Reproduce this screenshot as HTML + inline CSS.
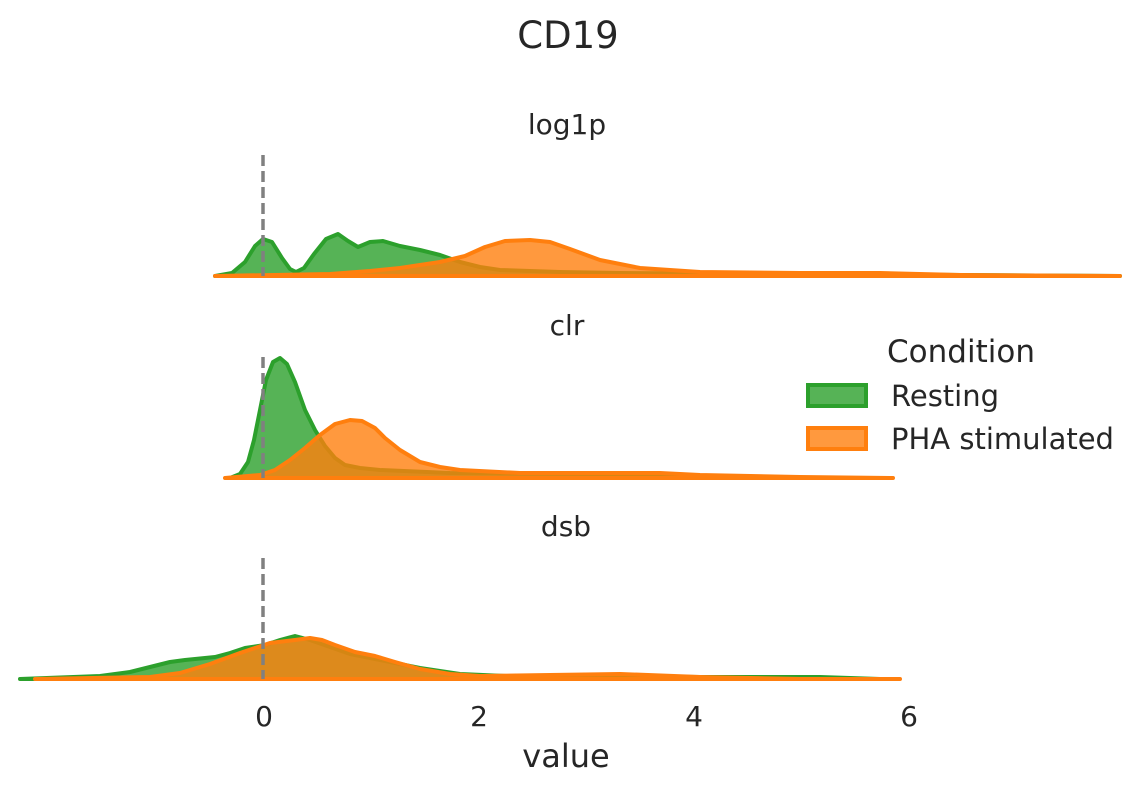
<!DOCTYPE html>
<html><head><style>body{margin:0;background:#fff}svg{display:block}text{font-family:"DejaVu Sans","Liberation Sans",sans-serif;fill:#262626}</style></head>
<body>
<svg width="1141" height="793" viewBox="0 0 1141 793">
<g stroke-width="4" stroke-linejoin="round" stroke-linecap="round">
<path d="M215 276 L232 273 L245 262 L255 246 L263 239 L272 242 L282 258 L290 269 L296 272 L304 268 L314 254 L326 239 L338 234 L348 241 L358 247 L370 242 L383 241 L400 246 L420 250 L440 255 L460 262 L480 267 L500 270 L560 272 L620 273 L800 274 L1120 276 Z" fill="#2ca02c" fill-opacity="0.8" stroke="#2ca02c"/>
<path d="M215 276 L330 274 L370 271 L400 268 L440 262 L465 256 L485 247 L505 241 L530 240 L550 242 L570 249 L600 260 L640 268 L700 272 L800 273 L880 273 L960 275 L1120 276 Z" fill="#ff7f0e" fill-opacity="0.8" stroke="#ff7f0e"/>
<path d="M230 478 L240 474 L248 462 L254 440 L260 410 L266 380 L273 362 L280 358 L287 364 L295 382 L305 410 L315 430 L325 446 L335 458 L345 465 L360 468 L380 470 L450 473 L600 474 L745 478 Z" fill="#2ca02c" fill-opacity="0.8" stroke="#2ca02c"/>
<path d="M225 478 L260 475 L275 470 L290 460 L305 448 L320 435 L335 424 L350 420 L362 421 L375 428 L385 438 L400 450 L420 462 L440 467 L460 470 L520 473 L600 473 L660 473 L700 475 L800 477 L893 478 Z" fill="#ff7f0e" fill-opacity="0.8" stroke="#ff7f0e"/>
<path d="M20 679 L100 676 L130 672 L150 667 L170 662 L185 660 L215 657 L230 653 L245 648 L265 645 L280 640 L295 636 L310 640 L330 647 L350 654 L380 660 L420 668 L460 674 L530 677 L600 676 L700 677 L820 677 L880 679 Z" fill="#2ca02c" fill-opacity="0.8" stroke="#2ca02c"/>
<path d="M35 679 L150 677 L180 673 L210 664 L240 653 L270 643 L295 640 L310 638 L322 640 L335 645 L355 652 L375 656 L395 662 L420 669 L450 674 L480 676 L550 675 L620 674 L700 677 L800 679 L900 679 Z" fill="#ff7f0e" fill-opacity="0.8" stroke="#ff7f0e"/>
</g>
<g stroke="#808080" stroke-width="3.5" stroke-dasharray="11,5">
<line x1="263" y1="155" x2="263" y2="276"/>
<line x1="263" y1="357" x2="263" y2="478"/>
<line x1="263" y1="558" x2="263" y2="679"/>
</g>
<text x="568" y="48" font-size="37" text-anchor="middle">CD19</text>
<text x="567" y="134" font-size="28" text-anchor="middle">log1p</text>
<text x="567" y="335" font-size="28" text-anchor="middle">clr</text>
<text x="566" y="536" font-size="28" text-anchor="middle">dsb</text>
<g font-size="28" text-anchor="middle">
<text x="264" y="726">0</text><text x="479" y="726">2</text><text x="694" y="726">4</text><text x="909" y="726">6</text>
</g>
<text x="566" y="767" font-size="32" text-anchor="middle">value</text>
<text x="961" y="362" font-size="31" text-anchor="middle">Condition</text>
<rect x="808" y="385" width="58" height="21" fill="#2ca02c" fill-opacity="0.8" stroke="#2ca02c" stroke-width="4"/>
<rect x="808" y="428" width="58" height="21" fill="#ff7f0e" fill-opacity="0.8" stroke="#ff7f0e" stroke-width="4"/>
<text x="891" y="406" font-size="29">Resting</text>
<text x="891" y="449" font-size="29">PHA stimulated</text>
</svg>
</body></html>
